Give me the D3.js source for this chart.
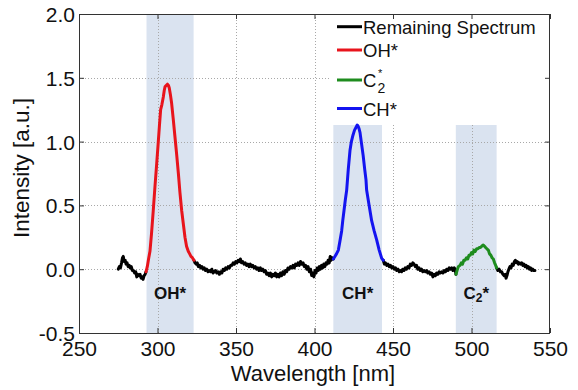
<!DOCTYPE html>
<html><head><meta charset="utf-8">
<script src="https://cdn.jsdelivr.net/npm/d3@7"></script>
<style>body{margin:0;background:#fff;} svg{display:block;font-family:"Liberation Sans",Arial,sans-serif;}</style>
</head><body>
<svg id="c" width="578" height="390"></svg>
<script>
// ---- data ----
const xTicks = [250, 300, 350, 400, 450, 500, 550];
const yTicks = [-0.5, 0.0, 0.5, 1.0, 1.5, 2.0];
const bands = [
  {name: "OH*", from: 293, to: 323},
  {name: "CH*", from: 412, to: 443},
  {name: "C2*", from: 490, to: 516}
];
const remainA = [[275.0,0.00],[275.7,0.02],[276.4,0.01],[277.1,0.05],[277.7,0.09],[278.2,0.10],[278.8,0.06],[279.4,0.07],[280.0,0.04],[280.6,0.05],[281.3,0.02],[282.0,0.03],[282.6,0.01],[283.3,0.02],[284.0,-0.01],[284.7,-0.01],[285.4,-0.03],[286.1,-0.02],[286.8,-0.06],[287.5,-0.04],[288.2,-0.05],[288.9,-0.04],[289.6,-0.07],[290.3,-0.06],[290.8,-0.08],[291.5,-0.05],[292.1,-0.04],[292.7,-0.02]];
const ohSpec = [[292.7,-0.02],[293.5,0.02],[294.3,0.08],[295.2,0.14],[296.2,0.28],[297.3,0.46],[298.4,0.65],[299.5,0.83],[300.4,0.98],[301.2,1.12],[302.0,1.25],[302.8,1.29],[303.7,1.35],[304.3,1.40],[304.8,1.43],[305.5,1.44],[306.3,1.45],[307.0,1.44],[307.5,1.42],[308.2,1.37],[309.0,1.30],[310.0,1.18],[311.1,1.04],[312.2,0.90],[313.3,0.75],[314.3,0.60],[315.4,0.46],[316.5,0.35],[317.5,0.25],[318.5,0.18],[319.6,0.14],[320.5,0.12],[321.3,0.10],[322.2,0.09],[323.2,0.07]];
const remainB = [[323.2,0.07],[323.9,0.05],[324.6,0.04],[325.3,0.05],[326.0,0.02],[326.8,0.03],[327.5,0.01],[328.3,0.02],[329.0,0.00],[329.8,0.01],[330.6,-0.01],[331.4,0.00],[332.2,-0.02],[333.0,-0.01],[333.8,-0.02],[334.6,0.00],[335.4,-0.03],[336.2,-0.02],[337.0,-0.01],[337.8,-0.03],[338.6,-0.02],[339.4,-0.04],[340.2,-0.02],[341.0,-0.03],[341.8,0.00],[342.6,-0.01],[343.4,0.01],[344.2,0.00],[345.0,0.02],[345.8,0.01],[346.6,0.03],[347.4,0.03],[348.2,0.05],[349.0,0.04],[349.8,0.06],[350.6,0.05],[351.4,0.07],[352.2,0.06],[352.8,0.08],[353.5,0.05],[354.3,0.06],[355.1,0.04],[355.9,0.05],[356.7,0.03],[357.5,0.04],[358.3,0.02],[359.1,0.04],[359.9,0.02],[360.7,0.03],[361.5,0.01],[362.3,0.02],[363.1,0.00],[363.9,0.01],[364.7,-0.01],[365.5,0.01],[366.3,-0.01],[367.1,0.00],[367.9,-0.02],[368.7,-0.01],[369.5,-0.04],[370.3,-0.03],[371.1,-0.05],[371.9,-0.03],[372.7,-0.06],[373.5,-0.04],[374.3,-0.05],[375.1,-0.03],[375.9,-0.06],[376.7,-0.04],[377.5,-0.06],[378.3,-0.03],[379.1,-0.05],[379.9,-0.02],[380.7,-0.04],[381.5,-0.01],[382.3,-0.02],[383.1,0.01],[383.9,0.00],[384.7,0.02],[385.5,0.01],[386.3,0.03],[387.1,0.01],[387.9,0.04],[388.7,0.03],[389.5,0.05],[390.3,0.03],[391.1,0.06],[391.9,0.04],[392.7,0.05],[393.5,0.02],[394.3,0.03],[395.1,0.00],[395.9,0.02],[396.7,-0.02],[397.5,0.00],[398.2,-0.05],[398.9,-0.03],[399.6,-0.06],[400.3,-0.01],[401.0,-0.03],[401.7,0.01],[402.4,-0.01],[403.1,0.02],[403.8,0.00],[404.5,0.03],[405.2,0.01],[405.9,0.04],[406.6,0.02],[407.3,0.05],[408.0,0.04],[408.7,0.07],[409.4,0.05],[410.0,0.10],[410.6,0.07],[411.2,0.09],[412.0,0.08]];
const chSpec = [[412.0,0.08],[413.0,0.10],[414.0,0.12],[415.2,0.15],[416.2,0.22],[417.3,0.30],[418.0,0.38],[418.8,0.46],[419.6,0.54],[420.5,0.62],[421.5,0.78],[422.6,0.93],[423.5,1.00],[424.5,1.05],[425.5,1.09],[426.4,1.11],[427.2,1.13],[427.8,1.12],[428.4,1.10],[429.0,1.07],[430.0,0.98],[431.0,0.89],[432.0,0.78],[432.8,0.70],[433.2,0.62],[434.8,0.50],[436.4,0.38],[438.0,0.30],[439.6,0.23],[441.2,0.15],[442.8,0.085],[443.8,0.07]];
const remainC = [[443.8,0.07],[444.5,0.04],[445.2,0.05],[446.0,0.03],[446.8,0.04],[447.6,0.02],[448.4,0.03],[449.2,0.01],[450.0,0.02],[450.8,0.00],[451.6,0.01],[452.4,-0.01],[453.2,0.00],[454.0,-0.02],[454.8,-0.01],[455.5,-0.02],[456.2,0.00],[457.0,-0.01],[457.8,0.01],[458.6,0.00],[459.4,0.02],[460.2,0.01],[461.0,0.04],[461.8,0.03],[462.6,0.05],[463.4,0.04],[464.2,0.02],[465.0,0.03],[465.8,0.00],[466.6,0.01],[467.4,-0.01],[468.2,0.00],[469.0,-0.02],[469.8,-0.01],[470.6,-0.02],[471.4,-0.01],[472.2,-0.03],[473.0,-0.02],[473.8,-0.04],[474.6,-0.03],[475.4,-0.06],[476.2,-0.04],[477.0,-0.05],[477.8,-0.03],[478.6,-0.04],[479.4,-0.02],[480.2,-0.03],[481.0,-0.02],[481.8,-0.03],[482.6,-0.01],[483.4,-0.02],[484.2,0.00],[485.0,-0.01],[485.8,0.01],[486.6,0.00],[487.4,0.01],[488.2,-0.01],[489.0,0.01],[489.6,0.00],[490.1,-0.04]];
const c2Spec = [[490.1,-0.04],[490.8,-0.01],[491.6,0.02],[492.7,0.03],[493.5,0.05],[494.3,0.04],[495.1,0.07],[495.9,0.07],[496.8,0.09],[497.6,0.08],[498.4,0.11],[499.2,0.11],[500.0,0.13],[500.8,0.12],[501.6,0.15],[502.4,0.14],[503.3,0.16],[504.1,0.16],[504.9,0.17],[505.7,0.17],[506.5,0.18],[507.5,0.19],[508.3,0.18],[509.0,0.17],[509.8,0.16],[510.7,0.15],[511.5,0.12],[512.3,0.11],[513.1,0.09],[513.9,0.08],[514.7,0.05],[515.4,0.03],[516.0,0.01]];
const remainD = [[516.0,0.01],[516.8,-0.01],[517.6,0.00],[518.4,-0.02],[519.2,-0.02],[520.0,-0.04],[520.8,-0.05],[521.5,-0.04],[522.0,-0.07],[522.6,-0.05],[523.2,-0.02],[523.8,0.00],[524.5,0.02],[525.2,0.01],[525.9,0.04],[526.6,0.03],[527.3,0.06],[527.9,0.07],[528.5,0.05],[529.2,0.06],[529.9,0.04],[530.6,0.05],[531.3,0.04],[532.0,0.05],[532.7,0.03],[533.4,0.04],[534.1,0.02],[534.8,0.03],[535.5,0.01],[536.2,0.02],[536.9,0.00],[537.6,0.01],[538.3,-0.01],[539.0,0.00],[539.7,-0.01],[540.4,-0.01]];
const legendItems = ["Remaining Spectrum", "OH*", "C2*", "CH*"];

// ---- drawing ----
const svg = d3.select("#c");
const L = 79, R = 550, T = 14, B = 333;
const x = d3.scaleLinear().domain([250, 550]).range([L, R]);
const y = d3.scaleLinear().domain([-0.5, 2.0]).range([B, T]);
const cBlack = "#000", cRed = "#e8141c", cGreen = "#1e8c1e", cBlue = "#1414f0";
const bandFill = "#dae3f0";

// bands
svg.append("g").selectAll("rect").data(bands).join("rect")
  .attr("x", d => x(d.from)).attr("width", d => x(d.to) - x(d.from))
  .attr("y", T).attr("height", B - T).attr("fill", bandFill);

// grid
const grid = svg.append("g").attr("stroke", "#a8a8a8").attr("stroke-width", 1).attr("stroke-dasharray", "1,2");
grid.selectAll(".gx").data(xTicks.slice(1, -1)).join("line")
  .attr("x1", d => Math.round(x(d)) + 0.5).attr("x2", d => Math.round(x(d)) + 0.5).attr("y1", T).attr("y2", B);
grid.selectAll(".gy").data(yTicks.slice(1, -1)).join("line")
  .attr("y1", d => Math.round(y(d)) + 0.5).attr("y2", d => Math.round(y(d)) + 0.5).attr("x1", L).attr("x2", R);

// legend background (covers upper right)
svg.append("rect").attr("x", 331).attr("y", T).attr("width", R - 331).attr("height", 125 - T).attr("fill", "#fff");

// axes (box with inner ticks)
const axCol = "#333";
function styleAxis(g){
  g.select(".domain").remove();
  g.selectAll(".tick line").attr("stroke", axCol);
  g.selectAll(".tick text").attr("fill", "#111").style("font-size", "21px").style("font-family", '"Liberation Sans", Arial, sans-serif');
}
svg.append("g").attr("transform", `translate(0,${B})`)
  .call(d3.axisBottom(x).tickValues(xTicks).tickSizeInner(-5).tickSizeOuter(0).tickPadding(10).tickFormat(d3.format("d")))
  .call(styleAxis)
  .call(g => g.selectAll(".tick text").attr("y", 23).attr("dy", 0));
svg.append("g").attr("transform", `translate(${L},0)`)
  .call(d3.axisLeft(y).tickValues(yTicks).tickSizeInner(-5).tickSizeOuter(0).tickPadding(4).tickFormat(d => d3.format(".1f")(d).replace("−", "-")))
  .call(styleAxis)
  .call(g => g.selectAll(".tick text").attr("x", -4).attr("dy", "0.36em"));
svg.append("g").attr("transform", `translate(0,${T})`)
  .call(d3.axisTop(x).tickValues(xTicks).tickSizeInner(-5).tickSizeOuter(0).tickFormat(""))
  .call(styleAxis);
svg.append("g").attr("transform", `translate(${R},0)`)
  .call(d3.axisRight(y).tickValues(yTicks).tickSizeInner(-5).tickSizeOuter(0).tickFormat(""))
  .call(styleAxis);
svg.append("rect").attr("x", L + 0.5).attr("y", T + 0.5).attr("width", R - L - 1).attr("height", B - T)
  .attr("fill", "none").attr("stroke", axCol).attr("stroke-width", 1);

// spectra
const line = d3.line().x(d => x(d[0])).y(d => y(d[1]));
const series = [
  [remainA, cBlack], [remainB, cBlack], [remainC, cBlack], [remainD, cBlack],
  [ohSpec, cRed], [chSpec, cBlue], [c2Spec, cGreen]
];
svg.append("g").selectAll("path").data(series).join("path")
  .attr("d", d => line(d[0])).attr("fill", "none").attr("stroke", d => d[1])
  .attr("stroke-width", 3).attr("stroke-linejoin", "round").attr("stroke-linecap", "round");

// band labels
const bl = svg.append("g").style("font-weight", "bold").style("font-size", "17px").attr("fill", "#111").attr("text-anchor", "middle");
bands.forEach(b => {
  const t = bl.append("text").attr("x", x((b.from + b.to) / 2)).attr("y", 299);
  if (b.name === "C2*") {
    t.append("tspan").text("C");
    t.append("tspan").text("2").style("font-size", "12px").attr("dy", 3);
    t.append("tspan").text("*").attr("dy", -3);
  } else t.text(b.name);
});

// legend
const legCols = [cBlack, cRed, cGreen, cBlue];
const legLineY = [26.7, 50, 80, 108.5];
const legBase = [34, 56.7, 87.3, 116];
const lg = svg.append("g").style("font-size", "18.5px").attr("fill", "#111");
legendItems.forEach((name, i) => {
  lg.append("line").attr("x1", 337).attr("x2", 362).attr("y1", legLineY[i]).attr("y2", legLineY[i])
    .attr("stroke", legCols[i]).attr("stroke-width", 3);
  if (name === "C2*") {
    lg.append("text").attr("x", 363).attr("y", legBase[i]).text("C");
    lg.append("text").attr("x", 377.5).attr("y", legBase[i] + 6).style("font-size", "14px").text("2");
    lg.append("text").attr("x", 378).attr("y", legBase[i] - 10).style("font-size", "11px").text("*");
  } else {
    lg.append("text").attr("x", 363).attr("y", legBase[i]).text(name);
  }
});

// axis titles
svg.append("text").attr("x", 313).attr("y", 381).attr("text-anchor", "middle")
  .style("font-size", "22px").attr("fill", "#111").text("Wavelength [nm]");
svg.append("text").attr("transform", "translate(29,168) rotate(-90)").attr("text-anchor", "middle")
  .style("font-size", "22.5px").attr("fill", "#111").text("Intensity [a.u.]");
</script>
</body></html>
